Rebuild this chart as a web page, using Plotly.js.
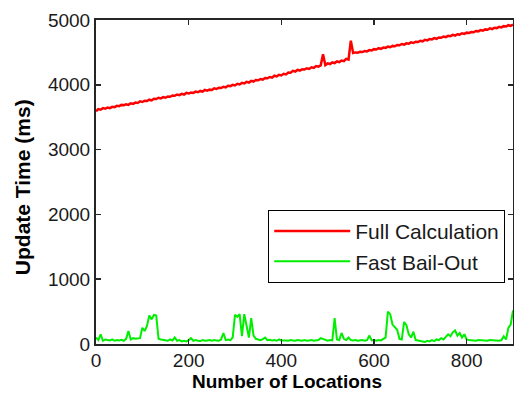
<!DOCTYPE html>
<html>
<head>
<meta charset="utf-8">
<script src="https://cdn.plot.ly/plotly-3.0.1.min.js"></script>
<style>html,body{margin:0;padding:0;background:#fff;}#chart{width:514px;height:393px;}</style>
</head>
<body>
<div id="chart"></div>
<script>
// Locations sampled every 5 (0..900)
const locationStart = 0;
const locationStep = 5;

const seriesNames = ["Full Calculation", "Fast Bail-Out"];
const xTitle = "Number of Locations";
const yTitle = "Update Time (ms)";

const fullCalculation = [
3590,3625,3615,3640,3630,3650,3640,3660,3655,3675,
3670,3690,3685,3700,3690,3715,3705,3725,3720,3745,
3735,3755,3750,3770,3760,3785,3780,3800,3790,3810,
3800,3820,3815,3835,3830,3850,3840,3860,3850,3875,
3865,3880,3875,3895,3885,3905,3895,3920,3910,3925,
3920,3945,3935,3955,3950,3970,3960,3985,3980,4000,
3990,4015,4005,4030,4020,4045,4035,4060,4050,4075,
4070,4090,4080,4105,4100,4120,4110,4140,4130,4155,
4145,4170,4160,4190,4185,4215,4205,4230,4220,4240,
4235,4255,4245,4270,4260,4290,4280,4300,4470,4305,
4330,4320,4345,4335,4360,4350,4375,4365,4400,4390,
4680,4490,4500,4495,4510,4505,4520,4515,4535,4530,
4550,4545,4565,4555,4575,4570,4590,4580,4600,4595,
4615,4610,4630,4620,4640,4635,4655,4645,4665,4660,
4680,4670,4695,4685,4705,4700,4720,4710,4730,4725,
4745,4735,4755,4750,4770,4760,4780,4775,4795,4785,
4805,4800,4815,4810,4830,4825,4845,4835,4855,4850,
4870,4860,4880,4875,4895,4885,4905,4900,4920,4910,
4930
];

const fastBailOut = [
100,60,150,50,70,60,55,70,50,60,
55,65,50,80,200,70,90,80,85,90,
250,200,280,440,380,450,440,80,70,60,
60,50,70,55,100,50,60,40,50,40,
60,90,50,60,50,45,60,50,55,60,
50,60,55,50,70,170,60,70,60,100,
450,420,460,120,460,250,100,400,130,80,
70,60,75,100,60,65,55,60,50,70,
55,60,55,50,60,55,50,60,55,50,
60,50,55,60,50,55,60,90,80,60,
50,60,55,400,70,60,170,80,60,100,
60,55,60,50,55,60,50,60,130,55,
60,50,60,55,80,100,500,460,300,260,
220,80,70,340,290,150,100,190,60,55,
50,40,30,50,40,60,45,70,60,90,
70,110,150,120,180,210,130,170,100,150,
70,60,55,60,50,60,55,60,55,50,
60,55,60,55,50,60,120,70,250,300,
520
];

const xTickVals = [0, 200, 400, 600, 800];
const yTickVals = [0, 1000, 2000, 3000, 4000, 5000];

const textColor = "#1a1a1a";
const axisColor = "#262626";
const fontFam = "Liberation Sans, Arial, sans-serif";

const traces = [
  {
    type: "scatter", mode: "lines", name: seriesNames[0],
    x0: locationStart, dx: locationStep, y: fullCalculation,
    line: {color: "#ff0000", width: 2.5}
  },
  {
    type: "scatter", mode: "lines", name: seriesNames[1],
    x0: locationStart, dx: locationStep, y: fastBailOut,
    line: {color: "#00ee00", width: 2}
  }
];

const axisCommon = {
  showline: true, linecolor: axisColor, linewidth: 2,
  mirror: "ticks", ticks: "inside", ticklen: 5, tickwidth: 1.5, tickcolor: axisColor,
  showgrid: false, zeroline: false,
  tickfont: {family: fontFam, size: 19, color: textColor}
};

const layout = {
  width: 514, height: 393,
  margin: {l: 96, r: 1, t: 20, b: 49},
  paper_bgcolor: "#ffffff", plot_bgcolor: "#ffffff",
  showlegend: true,
  xaxis: Object.assign({}, axisCommon, {range: [0, 900], tickvals: xTickVals, ticklabelstandoff: -2}),
  yaxis: Object.assign({}, axisCommon, {range: [0, 5000], tickvals: yTickVals}),
  annotations: [
    {text: xTitle, xref: "paper", yref: "paper", x: 0.457, y: -0.1512,
     xanchor: "center", yanchor: "bottom", showarrow: false, borderpad: 0,
     font: {family: fontFam, size: 19, color: "#000", weight: "bold"}},
    {text: yTitle, xref: "paper", yref: "paper", x: -0.1746, y: 0.4846, textangle: -90,
     xanchor: "center", yanchor: "middle", showarrow: false,
     font: {family: fontFam, size: 21, color: "#000", weight: "bold"}}
  ],
  legend: {
    x: 0.413, y: 0.414, xanchor: "left", yanchor: "top",
    bgcolor: "#ffffff", bordercolor: "#000000", borderwidth: 1,
    font: {family: fontFam, size: 21, color: textColor},
    itemwidth: 76, tracegroupgap: 0
  }
};

Plotly.newPlot("chart", traces, layout, {displayModeBar: false, staticPlot: true});
</script>
</body>
</html>
